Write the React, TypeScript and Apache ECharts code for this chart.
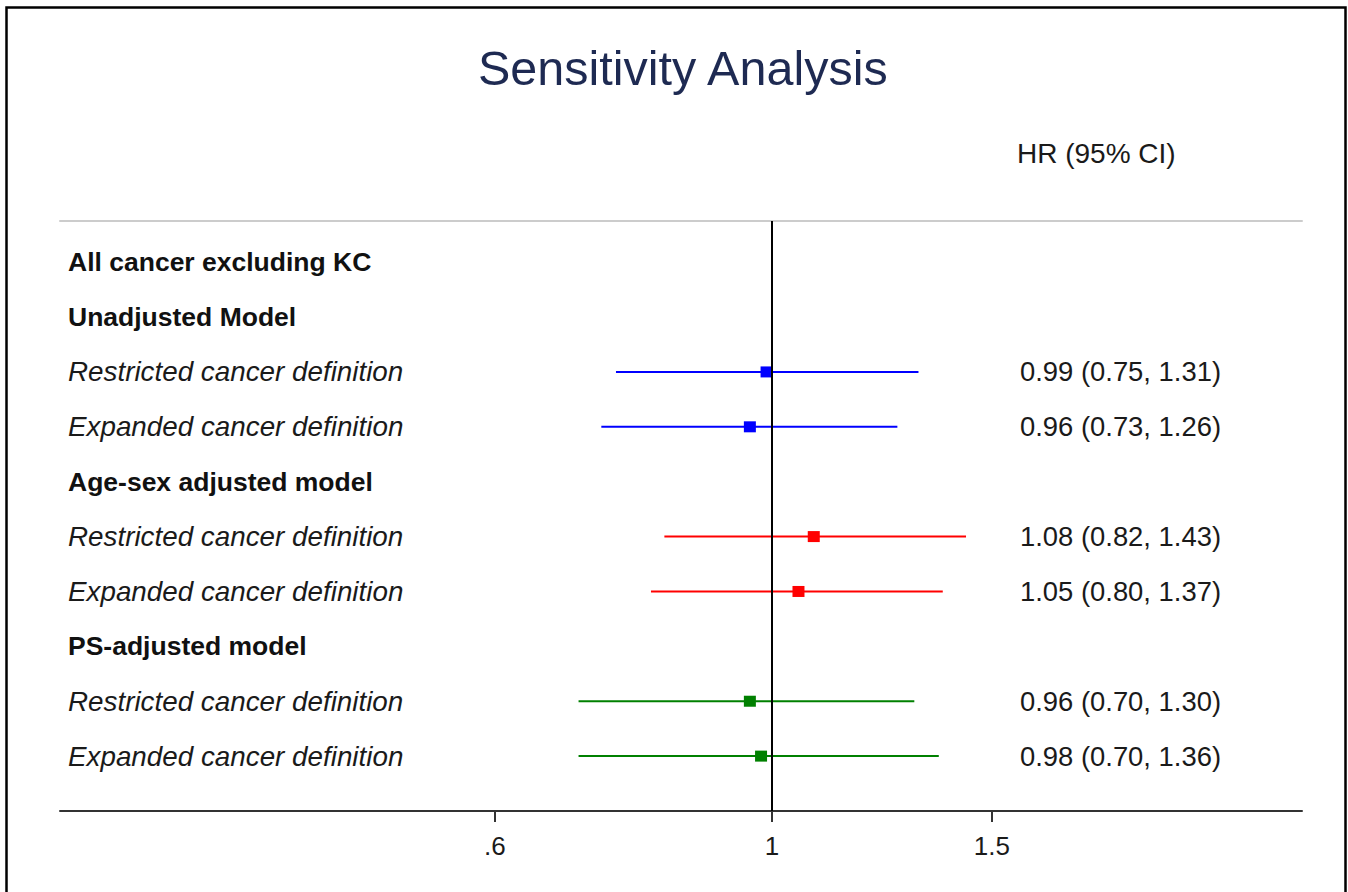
import React, { useEffect, useRef } from "react";
import * as echarts from "echarts";

const titleText = "Sensitivity Analysis";
const columnHeader = "HR (95% CI)";

const rowLabels = [
  "All cancer excluding KC",
  "Unadjusted Model",
  "Restricted cancer definition",
  "Expanded cancer definition",
  "Age-sex adjusted model",
  "Restricted cancer definition",
  "Expanded cancer definition",
  "PS-adjusted model",
  "Restricted cancer definition",
  "Expanded cancer definition",
];
const rowStyles = ["b", "b", "i", "i", "b", "i", "i", "b", "i", "i"];

const estimateRows = [2, 3, 5, 6, 8, 9];
const hrValues = [0.99, 0.96, 1.08, 1.05, 0.96, 0.98];
const ciLow = [0.75, 0.73, 0.82, 0.8, 0.7, 0.7];
const ciHigh = [1.31, 1.26, 1.43, 1.37, 1.3, 1.36];
const modelColors = ["#0000ff", "#0000ff", "#ff0000", "#ff0000", "#008000", "#008000"];

const tickValues = [0.6, 1, 1.5];
const tickLabels = [".6", "1", "1.5"];

const xMin = -1.3127;
const xMax = 0.9771;

const FONT = '"Liberation Sans", Arial, sans-serif';

export default function App() {
  const ref = useRef<HTMLDivElement>(null);

  useEffect(() => {
    if (!ref.current) return;
    const chart = echarts.init(ref.current, null, { renderer: "svg" });

    const rightText: string[] = rowLabels.map(() => "");
    estimateRows.forEach((r, i) => {
      rightText[r] = `${hrValues[i].toFixed(2)} (${ciLow[i].toFixed(2)}, ${ciHigh[i].toFixed(2)})`;
    });

    const ciData = estimateRows.map((r, i) => ({
      value: [Math.log(ciLow[i]), Math.log(ciHigh[i]), Math.log(hrValues[i]), r],
      itemStyle: { color: modelColors[i] },
    }));

    const rowIdx = rowLabels.map((_, i) => i);
    const yBase = {
      type: "value" as const,
      min: -0.75,
      max: 10.0,
      inverse: true,
      axisLine: { show: false, onZero: false },
      axisTick: { show: false },
      splitLine: { show: false },
    };

    const option: any = {
      animation: false,
      backgroundColor: "#ffffff",
      title: {
        text: titleText,
        left: 473,
        top: 38,
        textStyle: { fontFamily: FONT, fontSize: 48.5, fontWeight: "normal", color: "#1e2a52" },
      },
      grid: { left: 60, right: 46, top: 221, bottom: 81, containLabel: false },
      xAxis: [
        {
          type: "value",
          min: xMin,
          max: xMax,
          position: "bottom",
          axisLine: { show: true, onZero: false, lineStyle: { color: "#333333", width: 2 } },
          axisTick: {
            show: true,
            length: 11,
            lineStyle: { color: "#333333", width: 2 },
            customValues: tickValues.map((v) => Math.log(v)),
          },
          axisLabel: {
            show: true,
            margin: 22,
            fontFamily: FONT,
            fontSize: 26,
            color: "#1a1a1a",
            customValues: tickValues.map((v) => Math.log(v)),
            formatter: (v: number) => {
              const i = tickValues.findIndex((t) => Math.abs(Math.log(t) - v) < 1e-6);
              return i >= 0 ? tickLabels[i] : "";
            },
          },
          splitLine: { show: false },
        },
        {
          type: "value",
          min: xMin,
          max: xMax,
          position: "top",
          axisLine: { show: true, onZero: false, lineStyle: { color: "#cccccc", width: 2 } },
          axisTick: { show: false },
          axisLabel: { show: false },
          splitLine: { show: false },
        },
      ],
      yAxis: [
        {
          ...yBase,
          position: "left",
          axisLabel: {
            show: true,
            inside: true,
            margin: 8,
            customValues: rowIdx,
            formatter: (v: number) => {
              const i = Math.round(v);
              return `{${rowStyles[i]}|${rowLabels[i]}}`;
            },
            rich: {
              b: { fontFamily: FONT, fontSize: 26.5, fontWeight: "bold", color: "#111111" },
              i: { fontFamily: FONT, fontSize: 27.8, fontStyle: "italic", color: "#1a1a1a" },
            },
          },
        },
        {
          ...yBase,
          position: "left",
          axisLabel: {
            show: true,
            inside: true,
            margin: 960,
            customValues: estimateRows,
            fontFamily: FONT,
            fontSize: 27.4,
            color: "#1a1a1a",
            formatter: (v: number) => rightText[Math.round(v)],
          },
        },
      ],
      graphic: [
        {
          type: "rect",
          shape: { x: 6.5, y: 7.5, width: 1339, height: 900 },
          style: { fill: "none", stroke: "#000000", lineWidth: 2.5 },
          silent: true,
        },
        {
          type: "text",
          x: 1017,
          y: 153,
          style: {
            text: columnHeader,
            fontFamily: FONT,
            fontSize: 28,
            fill: "#1a1a1a",
            textVerticalAlign: "middle",
            verticalAlign: "middle",
          },
        },
      ],
      series: [
        {
          type: "custom",
          xAxisIndex: 0,
          yAxisIndex: 0,
          data: ciData,
          renderItem: (params: any, api: any) => {
            const lo = api.coord([api.value(0), api.value(3)]);
            const hi = api.coord([api.value(1), api.value(3)]);
            const pt = api.coord([api.value(2), api.value(3)]);
            const color = api.visual("color");
            return {
              type: "group",
              children: [
                {
                  type: "line",
                  shape: { x1: lo[0], y1: lo[1], x2: hi[0], y2: hi[1] },
                  style: { stroke: color, lineWidth: 2 },
                },
                {
                  type: "rect",
                  shape: { x: pt[0] - 6, y: pt[1] - 5.5, width: 12, height: 11 },
                  style: { fill: color },
                },
              ],
            };
          },
          markLine: {
            silent: true,
            symbol: "none",
            label: { show: false },
            lineStyle: { color: "#000000", width: 2, type: "solid" },
            data: [{ xAxis: 0 }],
          },
          z: 3,
        },
      ],
    };

    chart.setOption(option);
    return () => chart.dispose();
  }, []);

  return (
    <div
      ref={ref}
      style={{ position: "absolute", left: 0, top: 0, width: 1348, height: 892 }}
    />
  );
}
